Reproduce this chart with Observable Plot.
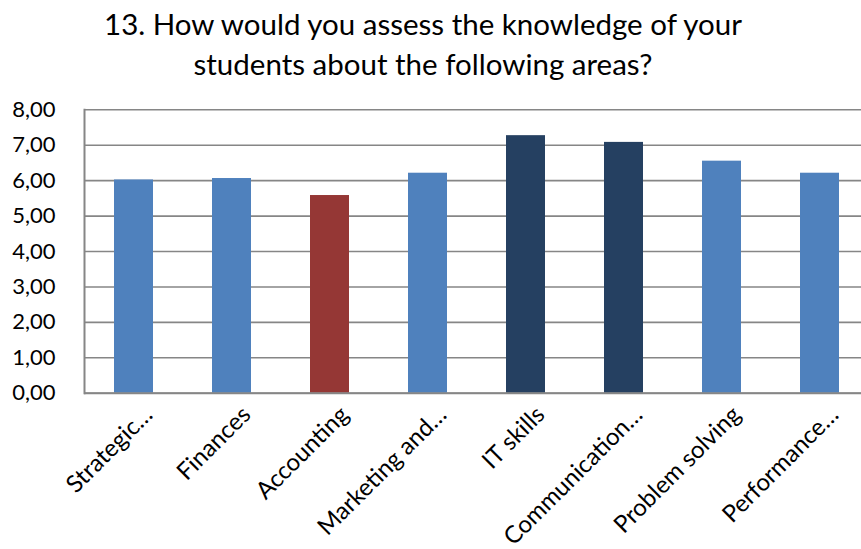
<!DOCTYPE html>
<html><head><meta charset="utf-8">
<script src="https://cdn.jsdelivr.net/npm/d3@7"></script>
<script src="https://cdn.jsdelivr.net/npm/@observablehq/plot@0.6"></script>
<style>
html,body{margin:0;padding:0;background:#fff;overflow:hidden;}
#title{width:846px;height:95px;text-align:center;font-family:Lato,sans-serif;font-size:29.5px;line-height:40px;padding-top:3.6px;box-sizing:border-box;color:#000;}
#chart svg{overflow:visible;}
</style></head><body>
<div id="title">13. How would you assess the knowledge of your<br>students about the following areas?</div>
<div id="chart"></div>
<script>
const categories = ["Strategic…", "Finances", "Accounting", "Marketing and…", "IT skills", "Communication…", "Problem solving", "Performance…"];
const values = [6.02, 6.06, 5.58, 6.21, 7.27, 7.08, 6.55, 6.21];
const groups = ["mid", "mid", "low", "mid", "high", "high", "mid", "mid"];
const yTicks = [0, 1, 2, 3, 4, 5, 6, 7, 8];
const groupDomain = ["mid", "low", "high"];
const groupColors = ["#4F81BD", "#953735", "#254061"];

const data = categories.map((c, i) => ({category: c, value: values[i], group: groups[i]}));
const fmt = d => d3.format(".2f")(d).replace(".", ",");

const chart = Plot.plot({
  width: 861,
  height: 454,
  marginTop: 14.3,
  marginBottom: 156.3,
  marginLeft: 84,
  marginRight: -9,
  style: {fontFamily: "Lato, sans-serif", fontSize: "22px", color: "#000", background: "transparent", overflow: "visible"},
  x: {domain: categories, paddingInner: 0.6, paddingOuter: 0.3},
  y: {domain: [0, 8]},
  color: {domain: groupDomain, range: groupColors},
  marks: [
    Plot.ruleY(yTicks, {stroke: "#868686", strokeWidth: 1.6, strokeOpacity: 1}),
    Plot.barY(data, {x: "category", y: "value", fill: "group"}),
    Plot.ruleY([0], {stroke: "#868686", strokeWidth: 2}),
    Plot.frame({anchor: "left", stroke: "#868686", strokeWidth: 2}),
    Plot.axisY({ticks: yTicks, tickFormat: fmt, tickSize: 0, tickPadding: 29, fontSize: 22, label: null}),
    Plot.axisX({tickSize: 0, tickPadding: 0, tickRotate: -45, textAnchor: "end", lineAnchor: "bottom", fontSize: 24, dx: 20, dy: 23, label: null})
  ]
});
document.getElementById("chart").appendChild(chart);
</script>
</body></html>
